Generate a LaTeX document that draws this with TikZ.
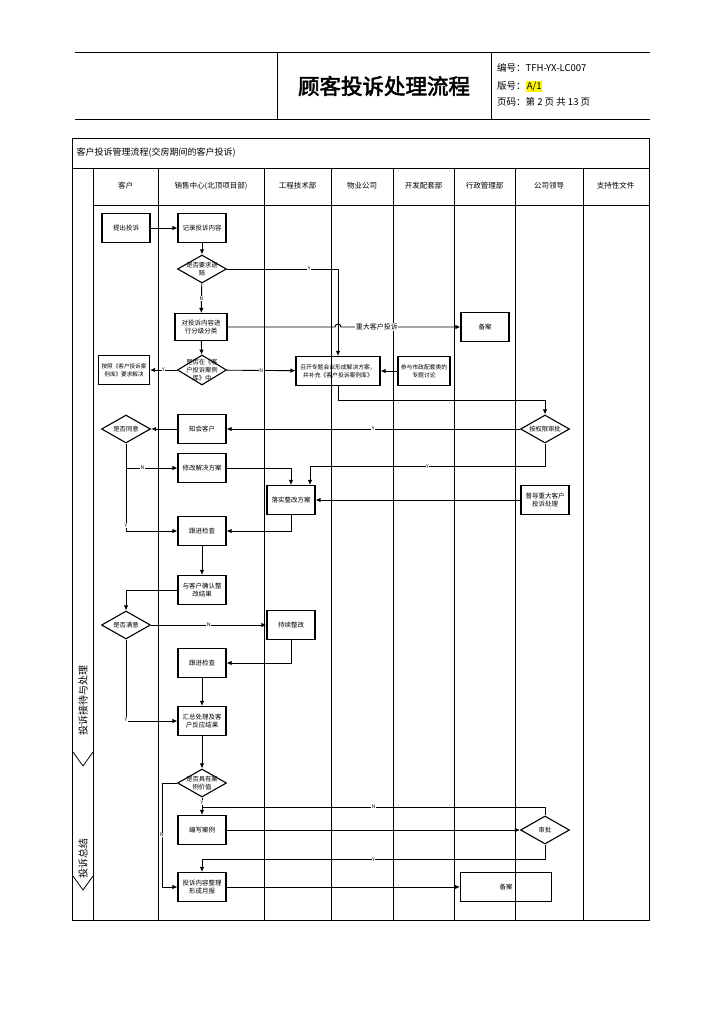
\documentclass[tikz,border=0pt]{standalone}
\usepackage{fontspec}
\setmainfont{Noto Sans CJK SC}[AutoFakeBold=2.5]
\usepackage{tikz}
\usetikzlibrary{shapes.geometric, arrows.meta, positioning}

\begin{document}
\begin{tikzpicture}[
    x=1pt, y=-1pt,
    block/.style={rectangle, draw, line width=1.1pt, minimum width=48pt, minimum height=29pt, inner sep=1pt, align=center, font=\fontsize{6.5}{8.5}\selectfont},
    decision/.style={diamond, draw, line width=1.1pt, minimum width=49pt, minimum height=28pt, inner sep=0pt},
    dtext/.style={align=center, inner sep=0pt, font=\fontsize{6.3}{8}\selectfont},
    arrow/.style={line width=0.9pt, -{Latex[length=5pt,width=4.5pt]}},
    link/.style={line width=0.9pt},
    yn/.style={fill=white, inner sep=0.6pt, font=\fontsize{5}{5}\selectfont},
    lane/.style={line width=0.8pt},
    lanehead/.style={font=\fontsize{7.5}{9}\selectfont},
    headtext/.style={inner sep=0pt, font=\fontsize{9.5}{11}\selectfont}
]
    \useasboundingbox (0,0) rectangle (724,1024);

    % page header
    \draw [lane] (75,52) -- (650,52);
    \draw [lane] (75,119) -- (650,119);
    \draw [lane] (277,52) -- (277,119);
    \draw [lane] (491,52) -- (491,119);
    \node (title) at (384,86) {\fontsize{21.5}{24}\selectfont\bfseries 顾客投诉处理流程};
    \node (bianhao) [headtext, anchor=west] at (497,68) {编号：TFH-YX-LC007};
    \node (banhao) [headtext, anchor=west] at (497,86) {版号：};
    \node (banben) [headtext, anchor=base west, fill=yellow, inner sep=0.8pt] at (banhao.base east) {A/1};
    \node (yema) [headtext, anchor=west] at (497,102) {页码：第 2 页 共 13 页};

    % table frame and lanes
    \draw [lane] (72,138) rectangle (649,920);
    \draw [lane] (72,168) -- (649,168);
    \draw [lane] (93,205) -- (649,205);
    \foreach \lx in {93,158,264,331,393,454,515,583}
        \draw [lane] (\lx,168) -- (\lx,920);
    \node (biaoti) [anchor=west, font=\fontsize{9}{11}\selectfont] at (73,153) {客户投诉管理流程(交房期间的客户投诉)};
    \node (h1) [lanehead] at (125.5,186) {客户};
    \node (h2) [lanehead] at (211,186) {销售中心(北顶项目部)};
    \node (h3) [lanehead] at (297.5,186) {工程技术部};
    \node (h4) [lanehead] at (362,186) {物业公司};
    \node (h5) [lanehead] at (423.5,186) {开发配套部};
    \node (h6) [lanehead] at (484.5,186) {行政管理部};
    \node (h7) [lanehead] at (549,186) {公司领导};
    \node (h8) [lanehead] at (615.5,186) {支持性文件};

    % stages
    \node (stage1) [rotate=90, font=\fontsize{10}{12}\selectfont] at (83,700) {投诉接待与处理};
    \draw [lane] (73,752) -- (83,766) -- (93,752);
    \node (stage2) [rotate=90, font=\fontsize{10}{12}\selectfont] at (83,858) {投诉总结};
    \draw [lane] (73,876) -- (83,890) -- (93,876);

    % nodes
    \node (tousu) [block] at (126,228) {提出投诉};
    \node (jilu) [block] at (202,228) {记录投诉内容};
    \node (tuipei) [decision, label={[dtext]center:是否要求退\\赔}] at (202,269) {};
    \node (fenlei) [block, minimum width=52pt, minimum height=27pt] at (201,327) {对投诉内容进\\行分级分类};
    \node (beian1) [block] at (485,327) {备案};
    \node (anliku) [decision, minimum height=30pt, label={[dtext]center:是否在《客\\户投诉案例\\库》中}] at (202,370) {};
    \node (anzhao) [block, minimum width=51pt, font=\fontsize{5.6}{8}\selectfont] at (124,370) {按照《客户投诉案\\例库》要求解决};
    \node (huiyi) [block, minimum width=84pt, font=\fontsize{5.8}{8}\selectfont] at (338,371) {召开专题会议形成解决方案，\\并补充《客户投诉案例库》};
    \node (shizheng) [block, minimum width=52pt, font=\fontsize{5.8}{8}\selectfont] at (424,371) {参与市政配套类的\\专题讨论};
    \node (shenpi1) [decision, label={[dtext]center:按权限审批}] at (545,429) {};
    \node (zhihui) [block] at (202,429) {知会客户};
    \node (tongyi) [decision, label={[dtext]center:是否同意}] at (126,429) {};
    \node (xiugai) [block] at (202,468) {修改解决方案};
    \node (luoshi) [block] at (291,500) {落实整改方案};
    \node (dudao) [block] at (545,500) {督导重大客户\\投诉处理};
    \node (genjin1) [block] at (202,531) {跟进检查};
    \node (queren) [block] at (202,590) {与客户确认整\\改结果};
    \node (manyi) [decision, label={[dtext]center:是否满意}] at (126,625) {};
    \node (chixu) [block] at (291,625) {持续整改};
    \node (genjin2) [block] at (202,663) {跟进检查};
    \node (huizong) [block] at (202,721) {汇总处理及客\\户反应结果};
    \node (jiazhi) [decision, label={[dtext]center:是否具有案\\例价值}] at (202,783) {};
    \node (bianxie) [block] at (202,830) {编写案例};
    \node (shenpi2) [decision, label={[dtext]center:审批}] at (545,830) {};
    \node (yuebao) [block] at (202,887) {投诉内容整理\\形成月报};
    \node (beian2) [block, minimum width=91pt] at (506,887) {备案};
    \coordinate (hop) at (huiyi.north |- fenlei.east);

    % connectors
    \draw [arrow] (tousu) -- (jilu);
    \draw [arrow] (jilu) -- (tuipei);
    \draw [arrow] (tuipei.east) -| node[yn, pos=0.37] {Y} (huiyi.north);
    \draw [arrow] (tuipei) -- node[yn] {N} (fenlei);
    \draw [arrow] (fenlei.east) -- ([xshift=-3pt]hop) arc[start angle=180, end angle=0, radius=3pt] -- node[yn, pos=0.3, font=\fontsize{7}{8}\selectfont] {重大客户投诉} (beian1.west);
    \draw [arrow] (fenlei) -- (anliku);
    \draw [arrow] (anliku) -- node[yn] {Y} (anzhao);
    \draw [arrow] (anliku) -- node[yn] {N} (huiyi);
    \draw [arrow] (shizheng) -- (huiyi);
    \draw [arrow] (huiyi.south) -- ++(0,14) -| (shenpi1.north);
    \draw [arrow] (shenpi1) -- node[yn] {Y} (zhihui);
    \draw [arrow] (zhihui) -- (tongyi);
    \draw [arrow] (tongyi.south) |- node[yn, pos=0.66] {N} (xiugai.west);
    \draw [arrow] (tongyi.south) |- node[yn, pos=0.47] {Y} (genjin1.west);
    \draw [arrow] (xiugai.east) -| (luoshi.north);
    \draw [arrow] (shenpi1.south) -- ++(0,23) -| node[yn, pos=0.25] {Y} ([xshift=19pt]luoshi.north);
    \draw [arrow] (dudao) -- (luoshi);
    \draw [arrow] (luoshi.south) |- (genjin1.east);
    \draw [arrow] (genjin1) -- (queren);
    \draw [arrow] (queren.west) -| (manyi.north);
    \draw [arrow] (manyi) -- node[yn] {N} (chixu);
    \draw [arrow] (chixu.south) |- (genjin2.east);
    \draw [arrow] (genjin2) -- (huizong);
    \draw [arrow] (manyi.south) |- node[yn, pos=0.49] {Y} (huizong.west);
    \draw [arrow] (huizong) -- (jiazhi);
    \draw [arrow] (jiazhi) -- node[yn, pos=0.3] {Y} (bianxie);
    \draw [link] (shenpi2.north) |- node[yn, pos=0.75] {N} ([yshift=8pt]bianxie.north);
    \draw [arrow] (bianxie) -- (shenpi2);
    \draw [arrow] (shenpi2.south) -- ++(0,15) -| node[yn, pos=0.25] {Y} (yuebao.north);
    \draw [arrow] (jiazhi.west) -- ++(-15,0) |- node[yn, pos=0.25] {N} (yuebao.west);
    \draw [arrow] (yuebao) -- (beian2);
\end{tikzpicture}
\end{document}
